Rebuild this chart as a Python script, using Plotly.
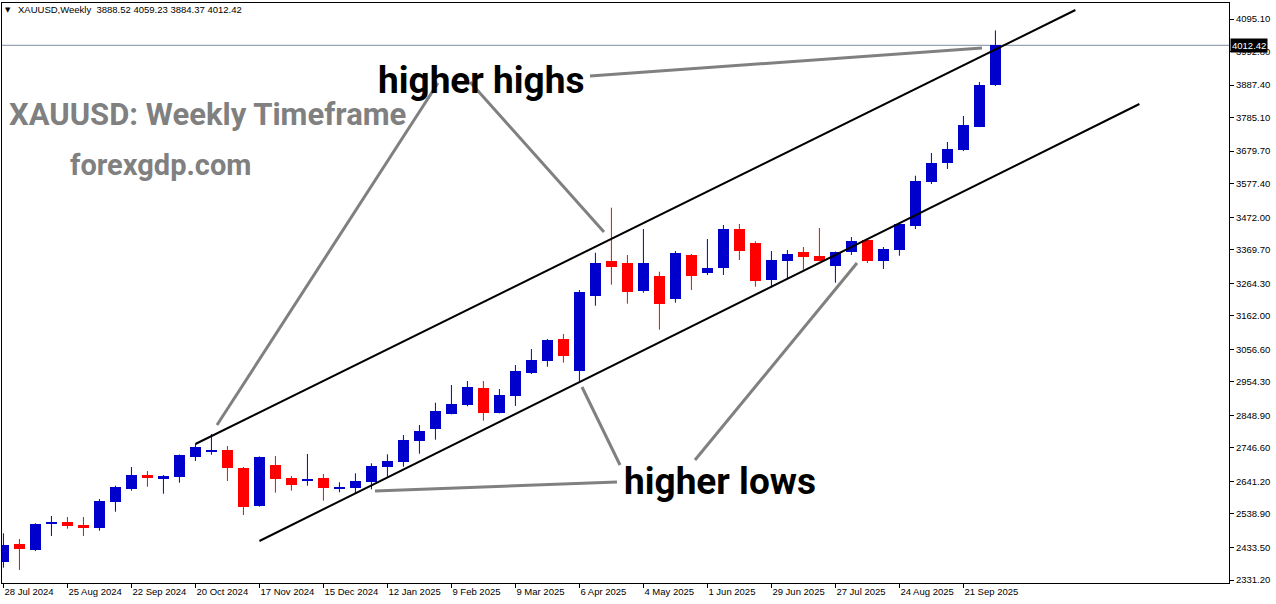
import plotly.graph_objects as go
import pandas as pd

symbol = "XAUUSD"
timeframe = "Weekly"
first_week = "2024-07-28"

opens = [2388.8, 2444.5, 2425.6, 2507.4, 2513.7, 2504.2, 2495.8, 2577.5, 2617.4, 2661.4,
         2649.8, 2656.1, 2719.0, 2734.0, 2740.0, 2683.4, 2563.9, 2692.9, 2651.0, 2643.5,
         2652.0, 2619.6, 2621.5, 2640.4, 2687.5, 2703.2, 2769.3, 2805.1, 2854.2, 2881.5,
         2934.0, 2857.3, 2910.8, 2983.0, 3020.8, 3089.0, 2989.4, 3225.2, 3334.3, 3329.0,
         3240.9, 3287.1, 3215.7, 3353.1, 3297.5, 3313.2, 3434.8, 3390.8, 3275.2, 3335.2,
         3362.5, 3350.0, 3319.5, 3363.5, 3400.3, 3334.3, 3368.8, 3445.2, 3581.7, 3643.3,
         3683.2, 3756.5, 3888.52]
highs = [2478.1, 2460.2, 2509.6, 2532.5, 2529.3, 2529.3, 2586.0, 2627.8, 2686.6, 2673.9,
         2661.4, 2726.0, 2758.9, 2790.3, 2752.6, 2686.6, 2720.0, 2721.2, 2658.3, 2727.5,
         2664.6, 2638.5, 2666.7, 2698.2, 2726.5, 2787.2, 2818.6, 2888.7, 2944.4, 2956.9,
         2956.9, 2931.8, 3007.3, 3057.6, 3089.0, 3104.7, 3243.0, 3360.3, 3501.8, 3353.1,
         3434.8, 3300.6, 3365.7, 3356.3, 3403.4, 3447.4, 3450.6, 3396.2, 3365.7, 3368.8,
         3378.3, 3438.0, 3364.0, 3409.7, 3403.4, 3378.3, 3452.0, 3602.4, 3673.9, 3708.4,
         3790.1, 3897.0, 4059.23]
lows = [2370.0, 2362.8, 2422.5, 2469.6, 2492.6, 2469.6, 2486.3, 2546.0, 2612.1, 2624.6,
        2602.6, 2637.2, 2705.4, 2725.3, 2642.6, 2535.7, 2562.0, 2605.8, 2612.1, 2627.8,
        2580.6, 2607.0, 2603.9, 2616.5, 2656.1, 2687.5, 2728.4, 2772.4, 2852.0, 2877.4,
        2832.2, 2855.0, 2878.4, 2979.0, 3002.0, 3014.5, 2952.9, 3193.6, 3259.7, 3200.0,
        3234.6, 3118.3, 3203.2, 3243.1, 3290.2, 3290.2, 3337.4, 3253.4, 3251.5, 3279.8,
        3306.9, 3333.0, 3266.0, 3353.1, 3328.0, 3309.1, 3350.9, 3434.8, 3576.3, 3623.5,
        3680.1, 3755.0, 3884.37]
closes = [2441.4, 2429.7, 2507.4, 2514.6, 2501.1, 2495.8, 2579.7, 2623.7, 2661.4, 2653.0,
          2658.3, 2724.3, 2749.5, 2737.0, 2684.4, 2561.7, 2718.0, 2649.8, 2630.9, 2648.8,
          2621.5, 2624.6, 2642.6, 2689.8, 2705.4, 2771.5, 2799.8, 2862.6, 2884.7, 2938.1,
          2857.3, 2913.0, 2988.4, 3023.0, 3085.9, 3036.5, 3237.7, 3329.0, 3316.3, 3237.7,
          3329.0, 3200.0, 3360.3, 3287.1, 3312.2, 3434.8, 3366.6, 3272.1, 3337.4, 3356.3,
          3347.8, 3335.2, 3362.5, 3397.1, 3334.3, 3372.0, 3450.6, 3585.8, 3642.4, 3686.4,
          3761.8, 3887.6, 4012.42]

price_ticks = [4095.10, 3992.80, 3887.40, 3785.10, 3679.70, 3577.40, 3472.00, 3369.70,
               3264.30, 3162.00, 3056.60, 2954.30, 2848.90, 2746.60, 2641.20, 2538.90,
               2433.50, 2331.20]

# channel trendlines: (week index, price)
upper_channel = [(12, 2758.9), (67, 4123.4)]
lower_channel = [(16, 2453.9), (71, 3827.9)]

BULL = "#0000CD"
BEAR = "#FF0000"
FONT = "Liberation Sans"

dates = pd.date_range(first_week, periods=len(opens), freq="7D")
week = pd.Timedelta(weeks=1)
t0 = dates[0]


def wk(i):
    return t0 + week * i


body_w = week.total_seconds() * 1000 * 11 / 16
min_h = 3.2

fig = go.Figure()
for color, pick in ((BULL, lambda o, c: c >= o), (BEAR, lambda o, c: c < o)):
    xs, base, hgt, wx, wy = [], [], [], [], []
    for d, o, h, l, c in zip(dates, opens, highs, lows, closes):
        if not pick(o, c):
            continue
        xs.append(d)
        base.append(min(o, c))
        hgt.append(max(abs(c - o), min_h))
        wx += [d, d, None]
        wy += [l, h, None]
    fig.add_trace(go.Scatter(x=wx, y=wy, mode="lines", line=dict(color=color, width=1),
                             hoverinfo="skip", showlegend=False))
    fig.add_trace(go.Bar(x=xs, y=hgt, base=base, width=body_w,
                         marker=dict(color=color, line=dict(width=0)),
                         hoverinfo="skip", showlegend=False))

W, H = 1276, 604
PL, PR, PT, PB = 2, 1229, 3, 583


def px(x):
    return (x - PL) / (PR - PL)


def py(y):
    return (PB - y) / (PB - PT)


shapes = []
for (i0, p0), (i1, p1) in (upper_channel, lower_channel):
    shapes.append(dict(type="line", xref="x", yref="y", x0=wk(i0), y0=p0, x1=wk(i1), y1=p1,
                       line=dict(color="black", width=2)))

# current price line
last = closes[-1]
shapes.append(dict(type="line", xref="paper", yref="y", x0=0, x1=1, y0=last, y1=last,
                   line=dict(color="#7f8c99", width=1), layer="below"))

pointer_lines = [((590, 76), (982, 48)), ((438, 83), (217, 425)), ((470, 82), (604, 232)),
                 ((617, 482), (375, 491)), ((620, 465), (582, 387)), ((695, 460), (857, 263))]
for (x0, y0), (x1, y1) in pointer_lines:
    shapes.append(dict(type="line", xref="paper", yref="paper", x0=px(x0), y0=py(y0),
                       x1=px(x1), y1=py(y1), line=dict(color="#808080", width=3)))


def label(text, x, y, size, color, family="Roboto", xanchor="center"):
    return dict(text=text, x=px(x), y=py(y), xref="paper", yref="paper", showarrow=False,
                xanchor=xanchor, yanchor="middle", font=dict(family=family, size=size, color=color))


annotations = [
    label("▼", 8, 10, 7, "black", family="DejaVu Sans"),
    label(f"{symbol},{timeframe}  {opens[-1]:.2f} {highs[-1]:.2f} {lows[-1]:.2f} {closes[-1]:.2f}",
          16, 10, 9.5, "black", family=FONT, xanchor="left"),
    dict(text=f"{last:.2f}", x=1, y=last, xref="paper", yref="y", showarrow=False,
         font=dict(family=FONT, size=9.5, color="white"), bgcolor="black", xanchor="left",
         yanchor="middle", borderpad=1, xshift=1),
    label("<b>XAUUSD: Weekly Timeframe</b>", 207, 114, 31, "#808080"),
    label("<b>forexgdp.com</b>", 160, 165, 29, "#808080"),
    label("<b>higher highs</b>", 481, 80, 37, "black"),
    label("<b>higher lows</b>", 720, 481, 37, "black"),
]

x_ticks = dates[::4]
x_text = [f"{d.day} {d.strftime('%b %Y')}" for d in x_ticks]

fig.update_layout(
    width=W, height=H,
    margin=dict(l=PL, r=W - PR, t=PT, b=H - PB, pad=0),
    plot_bgcolor="white", paper_bgcolor="white",
    barmode="overlay", bargap=0,
    shapes=shapes, annotations=annotations,
    showlegend=False,
    xaxis=dict(type="date", range=[wk(-0.09), wk(76.6)], tickvals=list(x_ticks), ticktext=x_text,
               ticks="outside", ticklen=4, tickcolor="black", showgrid=False, zeroline=False,
               showline=True, linecolor="black", linewidth=1, mirror=True,
               ticklabelposition="outside right",
               tickfont=dict(family=FONT, size=9.5, color="black")),
    yaxis=dict(side="right", range=[2321.9, 4145.4], tickvals=price_ticks,
               ticktext=[f"{v:.2f}" for v in price_ticks],
               ticks="outside", ticklen=4, tickcolor="black", showgrid=False, zeroline=False,
               showline=True, linecolor="black", linewidth=1, mirror=True,
               tickfont=dict(family=FONT, size=9.5, color="black")),
)

fig.write_html("out.html", config={"displayModeBar": False},
               post_script="document.body.style.margin='0';document.body.style.overflow='hidden';")
